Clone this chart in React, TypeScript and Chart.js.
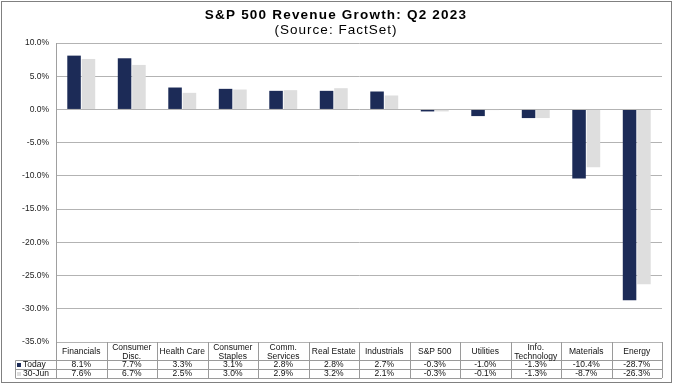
import React, { useEffect, useRef } from "react";
import { Chart, registerables } from "chart.js";

Chart.register(...registerables);

const categories: string[][] = [
  ["Financials"],
  ["Consumer", "Disc."],
  ["Health Care"],
  ["Consumer", "Staples"],
  ["Comm.", "Services"],
  ["Real Estate"],
  ["Industrials"],
  ["S&P 500"],
  ["Utilities"],
  ["Info.", "Technology"],
  ["Materials"],
  ["Energy"],
];
const todayValues = [8.1, 7.7, 3.3, 3.1, 2.8, 2.8, 2.7, -0.3, -1.0, -1.3, -10.4, -28.7];
const juneValues = [7.6, 6.7, 2.5, 3.0, 2.9, 3.2, 2.1, -0.3, -0.1, -1.3, -8.7, -26.3];
const seriesNames = ["Today", "30-Jun"];
const seriesColors = ["#1c2b57", "#dedede"];
const titleText = "S&P 500 Revenue Growth: Q2 2023";
const subtitleText = "(Source: FactSet)";
const yMin = -35;
const yMax = 10;
const yStep = 5;

const FONT = "'Liberation Sans', Arial, sans-serif";

const decorPlugin = {
  id: "decor",
  beforeDraw(chart: any) {
    const ctx = chart.ctx;
    ctx.save();
    ctx.fillStyle = "#ffffff";
    ctx.fillRect(0, 0, chart.width, chart.height);
    ctx.restore();
  },
  afterDraw(chart: any) {
    const ctx = chart.ctx;
    const area = chart.chartArea;
    const xs = chart.scales.x;
    const n = categories.length;
    const cw = (xs.right - xs.left) / n;
    const top = area.bottom;
    const hdrBottom = top + 18;
    const r1Bottom = hdrBottom + 9;
    const r2Bottom = r1Bottom + 9;
    const labelLeft = 15.5;
    ctx.save();

    // title
    ctx.fillStyle = "#000";
    ctx.textAlign = "center";
    ctx.textBaseline = "middle";
    const cxTitle = (area.left + area.right) / 2 - 23;
    ctx.font = `bold 13.5px ${FONT}`;
    (ctx as any).letterSpacing = "1.2px";
    ctx.fillText(titleText, cxTitle, 15.5);
    ctx.font = `13.5px ${FONT}`;
    (ctx as any).letterSpacing = "1px";
    ctx.fillText(subtitleText, cxTitle, 30);
    (ctx as any).letterSpacing = "0px";

    // table lines
    ctx.strokeStyle = "#9a9a9a";
    ctx.lineWidth = 1;
    ctx.beginPath();
    for (let i = 0; i <= n; i++) {
      const x = Math.round(xs.left + i * cw) + 0.5;
      ctx.moveTo(x, top);
      ctx.lineTo(x, r2Bottom);
    }
    ctx.moveTo(labelLeft, hdrBottom + 0.5);
    ctx.lineTo(labelLeft, r2Bottom);
    [hdrBottom, r1Bottom, r2Bottom].forEach((y) => {
      ctx.moveTo(labelLeft, Math.round(y) + 0.5);
      ctx.lineTo(xs.right, Math.round(y) + 0.5);
    });
    ctx.stroke();

    // header text
    ctx.fillStyle = "#111";
    ctx.font = `8.5px ${FONT}`;
    ctx.textAlign = "center";
    ctx.textBaseline = "middle";
    categories.forEach((lines, i) => {
      const cx = xs.left + (i + 0.5) * cw;
      const cy = (top + hdrBottom) / 2 + 1;
      if (lines.length === 1) {
        ctx.fillText(lines[0], cx, cy);
      } else {
        ctx.fillText(lines[0], cx, cy - 4.5);
        ctx.fillText(lines[1], cx, cy + 4.5);
      }
    });

    // values
    const rows = [todayValues, juneValues];
    const rowTops = [hdrBottom, r1Bottom];
    rows.forEach((vals, r) => {
      const cy = rowTops[r] + 5;
      vals.forEach((v, i) => {
        const cx = xs.left + (i + 0.5) * cw;
        ctx.fillText(`${v.toFixed(1)}%`, cx, cy);
      });
      // row label with key
      ctx.fillStyle = seriesColors[r];
      ctx.fillRect(17, cy - 2, 4, 4);
      ctx.fillStyle = "#111";
      ctx.textAlign = "left";
      ctx.fillText(seriesNames[r], 23, cy);
      ctx.textAlign = "center";
    });

    // outer border
    ctx.strokeStyle = "#808080";
    ctx.strokeRect(1.5, 1.5, chart.width - 4, chart.height - 3);
    ctx.restore();
  },
};

export default function App() {
  const canvasRef = useRef<HTMLCanvasElement | null>(null);

  useEffect(() => {
    document.body.style.margin = "0";
    const canvas = canvasRef.current;
    if (!canvas) return;
    const chart = new Chart(canvas, {
      type: "bar",
      data: {
        labels: categories.map((c) => c.join(" ")),
        datasets: [
          {
            label: seriesNames[0],
            data: todayValues,
            backgroundColor: seriesColors[0],
            borderWidth: 0,
            categoryPercentage: 0.57,
            barPercentage: 0.94,
          },
          {
            label: seriesNames[1],
            data: juneValues,
            backgroundColor: seriesColors[1],
            borderWidth: 0,
            categoryPercentage: 0.57,
            barPercentage: 0.94,
          },
        ],
      },
      options: {
        animation: false,
        responsive: false,
        maintainAspectRatio: false,
        layout: { padding: { top: 43, bottom: 42, left: 0, right: 12 } },
        plugins: {
          legend: { display: false },
          tooltip: { enabled: false },
          title: { display: false },
        },
        scales: {
          x: { display: false },
          y: {
            min: yMin,
            max: yMax,
            ticks: {
              stepSize: yStep,
              padding: 7,
              color: "#222",
              font: { family: FONT, size: 8.5 },
              callback: (v: any) => `${Number(v).toFixed(1)}%`,
            },
            grid: { color: "#b3b3b3", lineWidth: 1, drawTicks: false },
            border: { display: true, color: "#a0a0a0" },
            afterFit: (scale: any) => {
              scale.width = 56;
            },
          },
        },
      },
      plugins: [decorPlugin],
    });
    return () => chart.destroy();
  }, []);

  return (
    <div style={{ width: 674, height: 384 }}>
      <canvas ref={canvasRef} width={674} height={384} style={{ display: "block" }} />
    </div>
  );
}
